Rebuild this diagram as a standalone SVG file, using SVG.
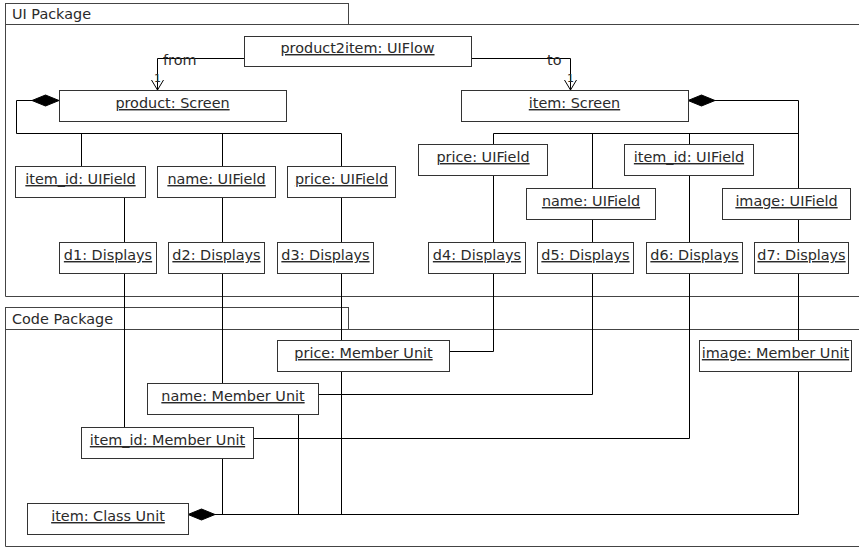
<svg xmlns="http://www.w3.org/2000/svg" width="859" height="547" viewBox="0 0 859 547">
<style>
.pkg{fill:none;stroke:#444;stroke-width:1}
.box{fill:#fff;stroke:#333;stroke-width:1}
.t{font-family:"DejaVu Sans",sans-serif;font-size:14.4px;fill:#2a2a2a;text-anchor:middle;text-decoration:underline}
.pt{font-family:"DejaVu Sans",sans-serif;font-size:14.4px;fill:#2a2a2a}
.lbl{font-family:"DejaVu Sans",sans-serif;font-size:14.4px;fill:#2a2a2a}
.m{font-family:"DejaVu Sans",sans-serif;font-size:11px;fill:#2a2a2a}
.c{fill:none;stroke:#000;stroke-width:1}
.dia{fill:#000;stroke:#000;stroke-width:1}
</style>
<defs>
<marker id="open" markerWidth="16" markerHeight="12" refX="7" refY="11" orient="0" markerUnits="userSpaceOnUse">
<path d="M1,1 L7,11 L13,1" fill="none" stroke="#000" stroke-width="1"/>
</marker>
</defs>
<rect width="859" height="547" fill="#fff"/>

<g id="ui-package">
<rect class="pkg" x="5.5" y="3.5" width="343" height="21"/>
<path class="pkg" d="M870,24.5 H5.5 V296.5 H870"/>
<text class="pt" x="12" y="19">UI Package</text>
</g>
<g id="code-package">
<rect class="pkg" x="5.5" y="307.5" width="343" height="22"/>
<path class="pkg" d="M870,329.5 H5.5 V546.5 H870"/>
<text class="pt" x="12" y="324">Code Package</text>
</g>

<g id="connectors">
<path class="c" d="M244,58.5 H157.5 V90" marker-end="url(#open)"/>
<path class="c" d="M471,58.5 H570.5 V90" marker-end="url(#open)"/>
<text class="lbl" x="163" y="65">from</text>
<text class="lbl" x="547" y="65">to</text>
<text class="m" x="154" y="82">1</text>
<text class="m" x="567" y="82">1</text>
<path class="c" d="M32,100.5 H16.5 V133.5 H341.5"/>
<path class="c" d="M81.5,133.5 V166 M222.5,133.5 V166 M341.5,133.5 V166"/>
<path class="c" d="M715,100.5 H798.5 V188"/>
<path class="c" d="M493.5,133.5 H798.5 M493.5,133.5 V144 M592.5,133.5 V188 M689.5,133.5 V144"/>
<path class="c" d="M124.5,198 V242 M222.5,198 V242 M341.5,198 V242 M493.5,176 V242 M592.5,219 V242 M689.5,176 V242 M798.5,219 V242"/>
<path class="c" d="M124.5,274 V427 M222.5,274 V383 M341.5,274 V340 M798.5,274 V340"/>
<path class="c" d="M493.5,274 V351.5 H449 M592.5,274 V394.5 H318 M689.5,274 V438.5 H253"/>
<path class="c" d="M222.5,458 V514.5 M298.5,415 V514.5 M341.5,372 V514.5 M798.5,372 V514.5 H215"/>
<path class="dia" d="M59,100.5 L45.5,95 L32,100.5 L45.5,106 Z"/>
<path class="dia" d="M688,100.5 L701.5,95 L715,100.5 L701.5,106 Z"/>
<path class="dia" d="M188,514.5 L201.5,509 L215,514.5 L201.5,520 Z"/>
</g>

<g id="product2item"><rect class="box" x="244.5" y="36.5" width="227" height="30"/><text class="t" x="357.5" y="53">product2item: UIFlow</text></g>
<g id="product-screen"><rect class="box" x="59.5" y="90.5" width="227" height="31"/><text class="t" x="172.5" y="108">product: Screen</text></g>
<g id="item-screen"><rect class="box" x="461.5" y="90.5" width="227" height="31"/><text class="t" x="574.5" y="108">item: Screen</text></g>

<g id="p-item_id"><rect class="box" x="15.5" y="166.5" width="130" height="31"/><text class="t" x="80.5" y="184">item_id: UIField</text></g>
<g id="p-name"><rect class="box" x="157.5" y="166.5" width="118" height="31"/><text class="t" x="216.5" y="184">name: UIField</text></g>
<g id="p-price"><rect class="box" x="287.5" y="166.5" width="108" height="31"/><text class="t" x="341.5" y="184">price: UIField</text></g>

<g id="i-price"><rect class="box" x="418.5" y="144.5" width="129" height="31"/><text class="t" x="483" y="162">price: UIField</text></g>
<g id="i-item_id"><rect class="box" x="624.5" y="144.5" width="129" height="31"/><text class="t" x="689" y="162">item_id: UIField</text></g>
<g id="i-name"><rect class="box" x="526.5" y="188.5" width="129" height="31"/><text class="t" x="591" y="206">name: UIField</text></g>
<g id="i-image"><rect class="box" x="722.5" y="188.5" width="128" height="31"/><text class="t" x="786.5" y="206">image: UIField</text></g>

<g id="d1"><rect class="box" x="59.5" y="242.5" width="97" height="31"/><text class="t" x="108" y="260">d1: Displays</text></g>
<g id="d2"><rect class="box" x="168.5" y="242.5" width="96" height="31"/><text class="t" x="216.5" y="260">d2: Displays</text></g>
<g id="d3"><rect class="box" x="277.5" y="242.5" width="96" height="31"/><text class="t" x="325.5" y="260">d3: Displays</text></g>
<g id="d4"><rect class="box" x="428.5" y="242.5" width="97" height="31"/><text class="t" x="477" y="260">d4: Displays</text></g>
<g id="d5"><rect class="box" x="537.5" y="242.5" width="96" height="31"/><text class="t" x="585.5" y="260">d5: Displays</text></g>
<g id="d6"><rect class="box" x="646.5" y="242.5" width="96" height="31"/><text class="t" x="694.5" y="260">d6: Displays</text></g>
<g id="d7"><rect class="box" x="754.5" y="242.5" width="94" height="31"/><text class="t" x="801.5" y="260">d7: Displays</text></g>

<g id="price-mu"><rect class="box" x="277.5" y="340.5" width="172" height="31"/><text class="t" x="363.5" y="358">price: Member Unit</text></g>
<g id="name-mu"><rect class="box" x="147.5" y="383.5" width="171" height="31"/><text class="t" x="233" y="401">name: Member Unit</text></g>
<g id="item_id-mu"><rect class="box" x="81.5" y="427.5" width="172" height="31"/><text class="t" x="167.5" y="445">item_id: Member Unit</text></g>
<g id="image-mu"><rect class="box" x="699.5" y="340.5" width="152" height="31"/><text class="t" x="775.5" y="358">image: Member Unit</text></g>
<g id="item-class"><rect class="box" x="27.5" y="503.5" width="161" height="31"/><text class="t" x="108" y="521">item: Class Unit</text></g>
</svg>
